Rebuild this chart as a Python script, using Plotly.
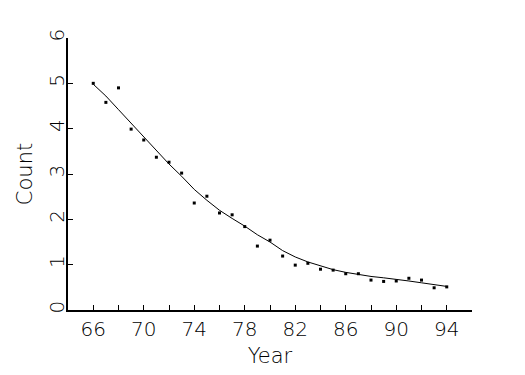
import plotly.graph_objects as go

years = list(range(66, 95))
counts = [5.00, 4.58, 4.90, 3.99, 3.75, 3.37, 3.26, 3.02, 2.36, 2.51,
          2.14, 2.10, 1.84, 1.41, 1.54, 1.19, 0.99, 1.03, 0.90, 0.88,
          0.80, 0.80, 0.66, 0.63, 0.64, 0.70, 0.66, 0.49, 0.51]
fit = [4.98, 4.72, 4.42, 4.12, 3.82, 3.52, 3.22, 2.95, 2.66, 2.42,
       2.20, 2.02, 1.85, 1.66, 1.50, 1.31, 1.17, 1.06, 0.97, 0.89,
       0.83, 0.78, 0.74, 0.71, 0.68, 0.64, 0.60, 0.56, 0.52]
x_ticks = [66, 70, 74, 78, 82, 86, 90, 94]
y_ticks = [0, 1, 2, 3, 4, 5, 6]

font_family = "DejaVu Sans"

fig = go.Figure()
fig.add_trace(go.Scatter(x=years, y=fit, mode="lines",
                         line=dict(color="black", width=1), hoverinfo="skip"))
fig.add_trace(go.Scatter(x=years, y=counts, mode="markers",
                         marker=dict(color="black", size=3, symbol="square")))

fig.update_layout(
    width=525, height=375,
    margin=dict(l=60, r=61, t=30, b=73),
    paper_bgcolor="white", plot_bgcolor="white",
    showlegend=False,
    font=dict(family=font_family, color="black", size=20, weight=200),
    xaxis=dict(
        range=[64, 96], tickmode="array", tickvals=x_ticks,
        ticktext=[str(v) for v in x_ticks],
        ticks="inside", ticklen=5, tickwidth=1, tickcolor="black",
        showline=True, linecolor="black", linewidth=2,
        showgrid=False, zeroline=False, automargin=False,
        minor=dict(tickmode="array", tickvals=list(range(64, 97, 2)),
                   ticks="inside", ticklen=5, tickwidth=1, tickcolor="black"),
        title=dict(text="Year", font=dict(size=21, weight=200), standoff=8),
        tickfont=dict(size=20, weight=200),
    ),
    yaxis=dict(
        range=[0, 6], tickmode="array", tickvals=y_ticks,
        ticktext=[str(v) for v in y_ticks],
        ticks="inside", ticklen=5, tickwidth=1, tickcolor="black",
        showline=True, linecolor="black", linewidth=2,
        showgrid=False, zeroline=False, tickangle=-90, automargin=False,
        ticklabelstandoff=-6,
        title=dict(text="Count", font=dict(size=21, weight=200), standoff=7),
        tickfont=dict(size=20, weight=200),
    ),
)

fig.write_html("out.html")
